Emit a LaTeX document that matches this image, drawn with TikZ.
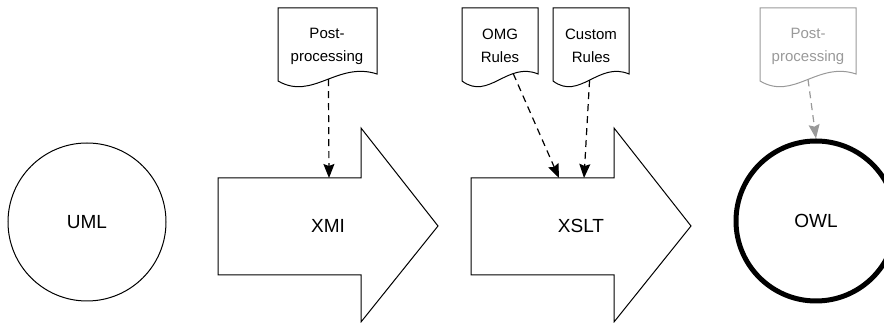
\documentclass[tikz,border=0pt]{standalone}
\usepackage{fontspec}
\setmainfont{Liberation Sans}
\usetikzlibrary{arrows.meta}
\definecolor{lightgrey}{RGB}{153,153,153}

\begin{document}
\begin{tikzpicture}[x=1pt,y=1pt,
    docline/.style={line width=1pt},
    doctext/.style={align=center, font=\fontsize{15}{23}\selectfont},
    bigtext/.style={font=\fontsize{19}{23}\selectfont},
    depends/.style={dash pattern=on 7pt off 5pt, line width=1.2pt, -{Stealth[length=14pt,width=11pt,inset=2pt]}}]
  \useasboundingbox (0,0) rectangle (884,323);
  % stages
  \node[circle, draw, line width=1pt, minimum size=158pt, bigtext] (uml) at (87,101) {UML};
  \node[circle, draw, line width=5pt, minimum size=160pt, bigtext] (owl) at (816,102) {OWL};
  \foreach \x/\n/\t in {218/xmi/XMI, 471/xslt/XSLT}{
    \draw[line width=1pt] (\x,145) -- (\x+143,145) -- (\x+143,195) -- (\x+220,97) -- (\x+143,1) -- (\x+143,48) -- (\x,48) -- cycle;
    \node[bigtext] (\n) at (\x+110,97) {\t};
  }
  % documents
  \foreach \x/\w/\p/\n/\c in {278/99/0.53/pp/black, 462/76/0.7/omg/black, 553/76/0.5/cust/black, 760/96/0.52/ppo/lightgrey}{
    \draw[docline, draw=\c] (\x,315) -- (\x,242) .. controls (\x+0.35*\w,222) and (\x+0.6*\w,262) .. (\x+\w,249) coordinate[pos=\p] (\n-out) -- (\x+\w,315) -- cycle;
  }
  \node[doctext] (pp) at (327,277) {Post-\\processing};
  \node[doctext] (omg) at (500,277) {OMG\\Rules};
  \node[doctext] (cust) at (591,277) {Custom\\Rules};
  \node[doctext, lightgrey] (ppo) at (808,277) {Post-\\processing};
  % inputs
  \coordinate (xmi-in) at (329,145);
  \coordinate (xslt-in1) at (559,145);
  \coordinate (xslt-in2) at (584,145);
  \draw[depends] (pp-out) -- (xmi-in);
  \draw[depends] (omg-out) -- (xslt-in1);
  \draw[depends] (cust-out) -- (xslt-in2);
  \draw[depends, lightgrey] (ppo-out) -- (owl.north);
\end{tikzpicture}
\end{document}
